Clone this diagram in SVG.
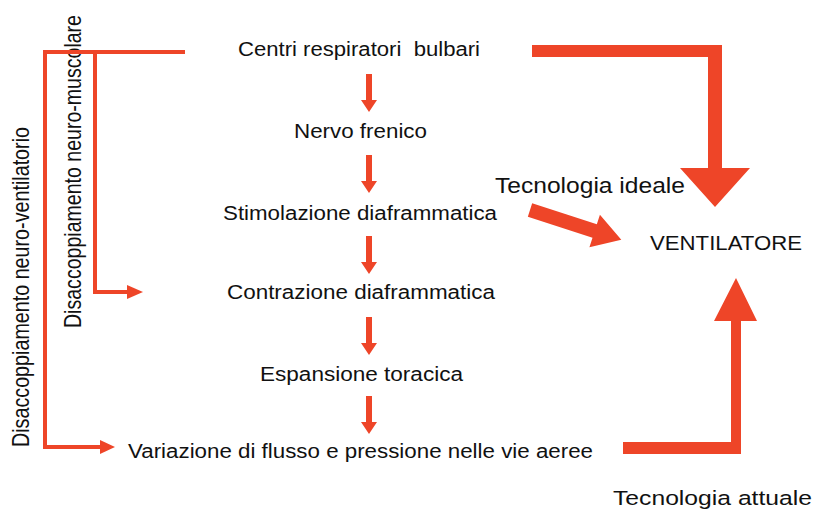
<svg xmlns="http://www.w3.org/2000/svg" xmlns:xlink="http://www.w3.org/1999/xlink" width="816" height="509" viewBox="0 0 816 509">
<style>
.t{font-family:"Liberation Sans",Arial,sans-serif;fill:#111;font-size:19.5px;white-space:pre}
.big{font-size:22px}
.red{fill:#EE4528}
.ln{fill:none;stroke:#EE4528;stroke-width:4}
</style>
<defs>
<path id="dn" d="M-3,0 H3 V26 H8 L0,38 L-8,26 H-3 Z" fill="#EE4528"/>
</defs>
<rect width="816" height="509" fill="#fff"/>
<g id="n1"><text class="t" x="238" y="56" textLength="242" lengthAdjust="spacingAndGlyphs">Centri respiratori  bulbari</text></g>
<g id="n2"><text class="t" x="294" y="138" textLength="133" lengthAdjust="spacingAndGlyphs">Nervo frenico</text></g>
<g id="n3"><text class="t" x="223" y="220" textLength="274" lengthAdjust="spacingAndGlyphs">Stimolazione diaframmatica</text></g>
<g id="n4"><text class="t" x="227" y="299" textLength="268" lengthAdjust="spacingAndGlyphs">Contrazione diaframmatica</text></g>
<g id="n5"><text class="t" x="260" y="381" textLength="203" lengthAdjust="spacingAndGlyphs">Espansione toracica</text></g>
<g id="n6"><text class="t" x="128" y="458" textLength="465" lengthAdjust="spacingAndGlyphs">Variazione di flusso e pressione nelle vie aeree</text></g>
<g id="ventilatore"><text class="t" style="font-size:20px" x="650" y="250" textLength="152" lengthAdjust="spacingAndGlyphs">VENTILATORE</text></g>
<g id="lbl-ideale"><text class="t big" x="495" y="193" textLength="190" lengthAdjust="spacingAndGlyphs">Tecnologia ideale</text></g>
<g id="lbl-attuale"><text class="t" style="font-size:20.5px" x="613" y="505" textLength="199" lengthAdjust="spacingAndGlyphs">Tecnologia attuale</text></g>
<g id="lbl-nv"><text class="t" style="font-size:19.5px" transform="translate(29,447) scale(1.2,1) rotate(-90)" textLength="320" lengthAdjust="spacingAndGlyphs">Disaccoppiamento neuro-ventilatorio</text></g>
<g id="lbl-nm"><text class="t" style="font-size:19.5px" transform="translate(81,328) scale(1.2,1) rotate(-90)" textLength="313" lengthAdjust="spacingAndGlyphs">Disaccoppiamento neuro-muscolare</text></g>
<g id="connectors">
<use xlink:href="#dn" href="#dn" transform="translate(369,74)"/>
<use xlink:href="#dn" href="#dn" transform="translate(369,155)"/>
<use xlink:href="#dn" href="#dn" transform="translate(369,236)"/>
<use xlink:href="#dn" href="#dn" transform="translate(369,317)"/>
<use xlink:href="#dn" href="#dn" transform="translate(369,396)"/>
<path class="ln" d="M185,52 H45 V447 H102"/>
<polygon class="red" points="100,440 115,447 100,454"/>
<path class="ln" d="M95,52 V292 H129"/>
<polygon class="red" points="127,285 143,292 127,299"/>
<polygon class="red" points="532,45 722,45 722,168 750,168 715,207 680,168 708,168 708,57 532,57"/>
<polygon class="red" transform="translate(530,210) rotate(18)" points="0,-7 68,-7 68,-17 96,0 68,17 68,7 0,7"/>
<polygon class="red" points="623,442 731,442 731,321 714,321 736,278 757,321 741,321 741,454 623,454"/>
</g>
</svg>
